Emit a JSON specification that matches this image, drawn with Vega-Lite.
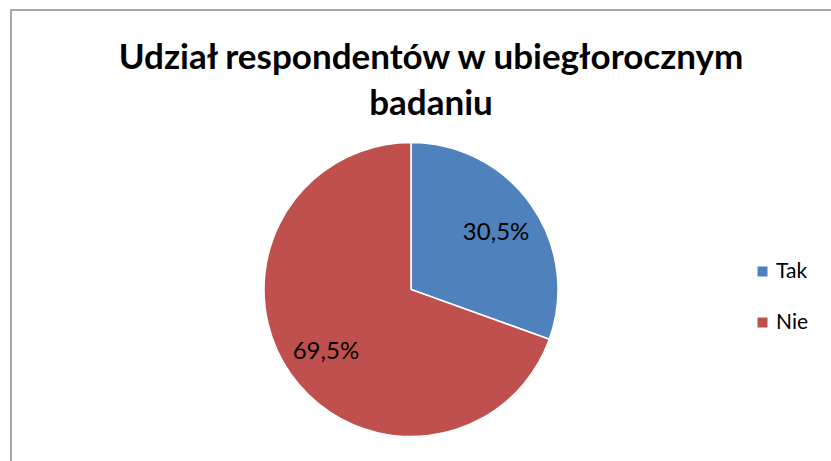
{
  "$schema": "https://vega.github.io/schema/vega-lite/v6.json",
  "autosize": {"type": "none"},
  "width": 822,
  "height": 453,
  "padding": {"left": 11, "top": 10, "right": -2, "bottom": -2},
  "background": "white",
  "view": {"stroke": "#8c8c8c", "strokeWidth": 1.5, "fill": "white"},
  "config": {
    "view": {"stroke": "#8c8c8c", "strokeWidth": 1.5},
    "font": "Lato"
  },
  "title": {
    "text": ["Udział respondentów w ubiegłorocznym", "badaniu"],
    "font": "Lato",
    "fontSize": 35,
    "fontWeight": "bold",
    "color": "#000000",
    "anchor": "middle",
    "baseline": "alphabetic",
    "lineHeight": 46,
    "offset": -140,
    "dx": 9
  },
  "data": {
    "values": [
      {"kategoria": "Tak", "udzial": 30.5, "etykieta": "30,5%", "kolejnosc": 1},
      {"kategoria": "Nie", "udzial": 69.5, "etykieta": "69,5%", "kolejnosc": 2}
    ]
  },
  "encoding": {
    "theta": {"field": "udzial", "type": "quantitative", "stack": true},
    "order": {"field": "kolejnosc", "type": "quantitative"}
  },
  "layer": [
    {
      "mark": {"type": "arc", "radius": 147, "stroke": "white", "strokeWidth": 1.5,
               "x": {"expr": "width/2 - 11"}, "y": {"expr": "height/2 + 53"}},
      "encoding": {
        "color": {
          "field": "kategoria",
          "type": "nominal",
          "scale": {"domain": ["Tak", "Nie"], "range": ["#4F81BD", "#C0504D"]},
          "legend": {
            "title": null,
            "orient": "none",
            "legendX": 741,
            "legendY": 251,
            "symbolType": "square",
            "symbolSize": 100,
            "symbolStrokeWidth": 0,
            "labelFont": "Lato",
            "labelFontSize": 21,
            "labelColor": "#000000",
            "labelOffset": 3,
            "rowPadding": 29
          }
        }
      }
    },
    {
      "mark": {"type": "text", "radius": 104, "dy": 3, "fontSize": 24, "font": "Lato", "color": "#000000",
               "x": {"expr": "width/2 - 11"}, "y": {"expr": "height/2 + 53"}},
      "encoding": {
        "text": {"field": "etykieta", "type": "nominal"}
      }
    }
  ]
}
